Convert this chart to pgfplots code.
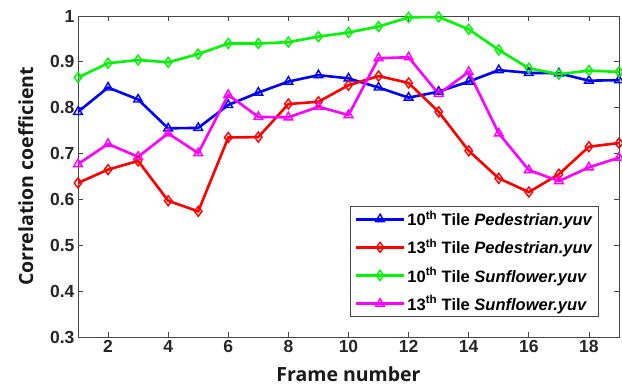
\documentclass[border=0pt]{standalone}
\usepackage{pgfplots}
\pgfplotsset{compat=1.18}
\usepackage{fontspec}
\setmainfont{Liberation Sans}
\newfontfamily\labfont{Open Sans}
\definecolor{cblue}{RGB}{0,0,255}
\definecolor{cred}{RGB}{255,0,0}
\definecolor{cgreen}{RGB}{0,245,0}
\definecolor{cmag}{RGB}{255,0,255}
\definecolor{axgray}{RGB}{70,70,70}
\begin{document}
\begin{tikzpicture}
\useasboundingbox (0,0) rectangle (622pt,387pt);
\begin{axis}[
  at={(78pt,50pt)}, anchor=south west,
  scale only axis, width=541pt, height=321pt,
  xmin=1, xmax=19, ymin=0.3, ymax=1,
  xtick={2,4,...,18}, ytick={0.3,0.4,...,1.0},
  yticklabels={0.3,0.4,0.5,0.6,0.7,0.8,0.9,1},
  tick align=inside, major tick length=5pt,
  axis line style={axgray, line width=0.8pt},
  every tick/.style={axgray, line width=0.8pt},
  ticklabel style={font=\fontsize{17.5}{17.5}\selectfont\bfseries, text=black!85},
  /pgf/number format/assume math mode=true,
  xlabel={\labfont\fontsize{19.5}{19.5}\selectfont\bfseries Frame number},
  ylabel={\labfont\fontsize{19.5}{19.5}\selectfont\bfseries Correlation coefficient},
  xlabel style={yshift=-7pt, text=black!90},
  ylabel style={yshift=10pt, text=black!90},
  legend style={at={(rel axis cs:0.963,0.062)}, anchor=south east,
    font=\fontsize{16.5}{18}\selectfont\bfseries, draw=axgray, line width=0.8pt,
    row sep=8pt, inner xsep=4pt, inner ysep=3pt},
  legend cell align=left,
  legend image code/.code={\draw[mark repeat=2,mark phase=2] plot coordinates {(0pt,0pt) (24pt,0pt) (48pt,0pt)};},
  every axis plot/.append style={line width=2.6pt, mark size=5pt, mark options={solid, line width=1.4pt, fill=none}},
]
\addplot[cblue, mark=triangle] coordinates {
(1,0.791)(2,0.844)(3,0.818)(4,0.755)(5,0.756)(6,0.806)(7,0.833)(8,0.857)(9,0.871)(10,0.864)
(11,0.844)(12,0.822)(13,0.835)(14,0.857)(15,0.882)(16,0.876)(17,0.875)(18,0.859)(19,0.860)};
\addlegendentry{10\textsuperscript{th} Tile \textit{Pedestrian.yuv}}
\addplot[cred, mark=diamond] coordinates {
(1,0.636)(2,0.665)(3,0.684)(4,0.597)(5,0.574)(6,0.735)(7,0.736)(8,0.808)(9,0.813)(10,0.849)
(11,0.869)(12,0.854)(13,0.791)(14,0.706)(15,0.646)(16,0.616)(17,0.655)(18,0.715)(19,0.723)};
\addlegendentry{13\textsuperscript{th} Tile \textit{Pedestrian.yuv}}
\addplot[cgreen, mark=diamond] coordinates {
(1,0.866)(2,0.897)(3,0.904)(4,0.899)(5,0.917)(6,0.940)(7,0.940)(8,0.943)(9,0.955)(10,0.964)
(11,0.977)(12,0.997)(13,0.998)(14,0.971)(15,0.926)(16,0.886)(17,0.873)(18,0.881)(19,0.878)};
\addlegendentry{10\textsuperscript{th} Tile \textit{Sunflower.yuv}}
\addplot[cmag, mark=triangle] coordinates {
(1,0.677)(2,0.721)(3,0.693)(4,0.744)(5,0.701)(6,0.828)(7,0.780)(8,0.779)(9,0.802)(10,0.784)
(11,0.908)(12,0.910)(13,0.830)(14,0.878)(15,0.744)(16,0.664)(17,0.640)(18,0.670)(19,0.691)};
\addlegendentry{13\textsuperscript{th} Tile \textit{Sunflower.yuv}}
\end{axis}
\end{tikzpicture}
\end{document}
